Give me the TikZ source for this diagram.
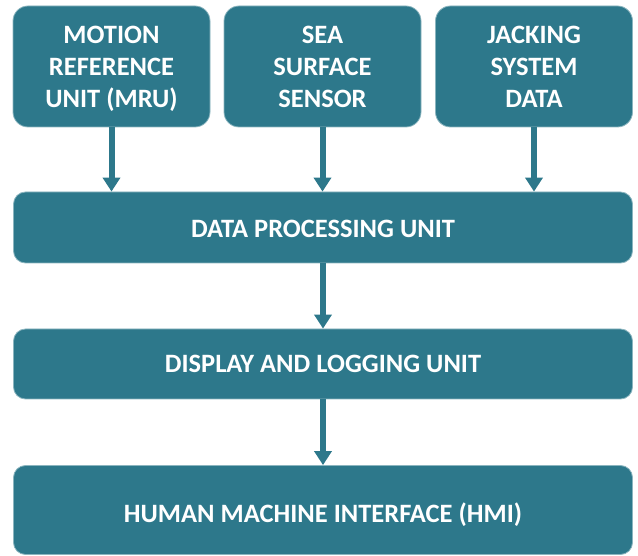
\documentclass[tikz,border=0pt]{standalone}
\usepackage{fontspec}
\setmainfont{Carlito}
\usetikzlibrary{arrows.meta}
\definecolor{teal1}{HTML}{2D788B}
\newcommand{\lowered}[2]{\raisebox{-#1}[\height][\depth]{\begin{tabular}{@{}c@{}}#2\end{tabular}}}
\newcommand{\lowline}[2]{\raisebox{-#1}[\height][\depth]{#2}}
\tikzset{
  boxbase/.style={draw=teal1!55!white, line width=0.8pt, fill=teal1, text=white, align=center,
    font=\fontsize{26.5}{32}\selectfont\bfseries, inner sep=0pt, anchor=center},
  topbox/.style={boxbase, rounded corners=15pt, minimum width=197pt, minimum height=121pt},
  widebox/.style={boxbase, rounded corners=12pt, minimum width=619pt},
  flow/.style={draw=teal1, line width=6pt, -{Triangle[width=17pt,length=14pt]}, shorten >=0pt}
}
\begin{document}
\begin{tikzpicture}[x=1pt,y=-1pt]
\useasboundingbox (0,0) rectangle (638,556);
\node[topbox] (mru) at (111.5,66.5) {\lowered{3pt}{MOTION\\REFERENCE\\UNIT (MRU)}};
\node[topbox] (sea) at (322.5,66.5) {\lowered{3pt}{SEA\\SURFACE\\SENSOR}};
\node[topbox] (jack) at (534,66.5) {\lowered{3pt}{JACKING\\SYSTEM\\DATA}};
\node[widebox, minimum height=71pt] (dpu) at (323,227.5) {\lowline{1pt}{DATA PROCESSING UNIT}};
\node[widebox, minimum height=70pt] (dlu) at (323,364) {DISPLAY AND LOGGING UNIT};
\node[widebox, minimum height=89pt] (hmi) at (323,510) {\lowline{4.5pt}{HUMAN MACHINE INTERFACE (HMI)}};
\draw[flow] (mru.south) -- (mru.south |- dpu.north);
\draw[flow] (sea.south) -- (sea.south |- dpu.north);
\draw[flow] (jack.south) -- (jack.south |- dpu.north);
\draw[flow] (dpu.south) -- (dlu.north);
\draw[flow] (dlu.south) -- (hmi.north);
\end{tikzpicture}
\end{document}
